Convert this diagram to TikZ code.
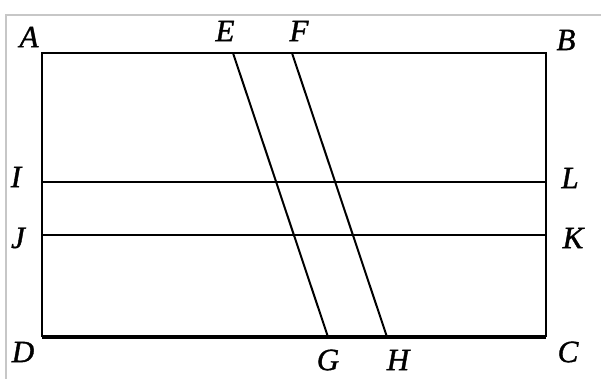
\documentclass[tikz,border=0pt]{standalone}
\usepackage{fontspec}
\setmainfont{Liberation Serif}
\newfontfamily\lblfont[ItalicFont={Liberation Serif Italic},ItalicFeatures={FakeBold=1.2}]{Liberation Serif}
\begin{document}
\begin{tikzpicture}[x=1pt,y=-1pt,
  lbl/.style={font=\lblfont\fontsize{31}{31}\selectfont\itshape, inner sep=0pt},
  seg/.style={line width=2pt, black},
  frame/.style={line width=1.2pt, black!22}]
\useasboundingbox (0,0) rectangle (601,379);
\draw[frame] (6,379) -- (6,15) -- (601,15);
\coordinate (A) at (42,53);
\coordinate (B) at (546,53);
\coordinate (C) at (546,337);
\coordinate (D) at (42,337);
\coordinate (E) at (233,53);
\coordinate (F) at (292,53);
\coordinate (G) at (328,337);
\coordinate (H) at (387,337);
\coordinate (I) at (42,182);
\coordinate (L) at (546,182);
\coordinate (J) at (42,235);
\coordinate (K) at (546,235);
\draw[seg] (D) -- (A) -- (B) -- (C);
\draw[line width=3.6pt] (D) -- (C);
\draw[seg] (I) -- (L);
\draw[seg] (J) -- (K);
\draw[seg] (E) -- (G);
\draw[seg] (F) -- (H);
\node[lbl] (lA) at (29,37) {A};
\node[lbl] (lB) at (566,40) {B};
\node[lbl] (lE) at (225,31) {E};
\node[lbl] (lF) at (299,31) {F};
\node[lbl] (lI) at (16,177) {I};
\node[lbl] (lL) at (570,178) {L};
\node[lbl] (lJ) at (18,238) {J};
\node[lbl] (lK) at (573,238) {K};
\node[lbl] (lD) at (23,352) {D};
\node[lbl] (lG) at (328,360) {G};
\node[lbl] (lH) at (398,360) {H};
\node[lbl] (lC) at (568,352) {C};
\end{tikzpicture}
\end{document}
